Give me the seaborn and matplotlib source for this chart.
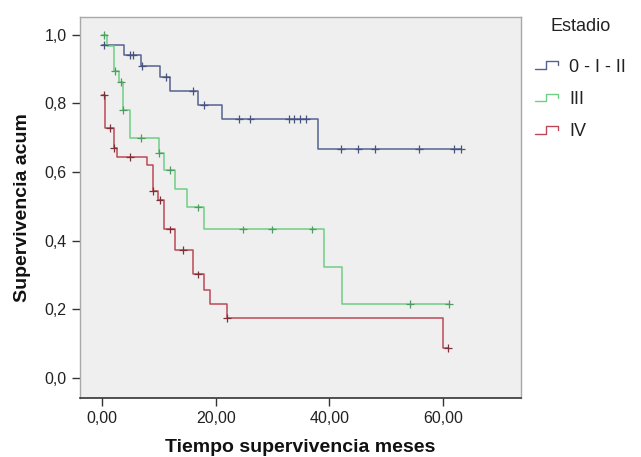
import numpy as np
import pandas as pd
import matplotlib.pyplot as plt
import seaborn as sns
from matplotlib.lines import Line2D
from matplotlib.legend_handler import HandlerBase
from matplotlib.ticker import FuncFormatter

# Kaplan-Meier steps: drop times (months) and survival after each drop
groups = ['0 - I - II', 'III', 'IV']

blue_t = [0, 3.9, 6.8, 10.1, 11.9, 16.9, 21.0, 37.9]
blue_s = [0.971, 0.942, 0.910, 0.877, 0.835, 0.796, 0.755, 0.668]
blue_cens = [0.3, 4.9, 5.5, 7.0, 11.2, 15.9, 17.9, 24.1, 26.1, 32.9, 33.8, 34.8,
             35.9, 42.0, 45.1, 48.0, 55.8, 61.9, 63.2]

green_t = [0, 0.8, 2.1, 3.0, 3.7, 4.9, 10.0, 10.9, 12.8, 15.0, 17.9, 39.0, 42.2]
green_s = [1.0, 0.966, 0.895, 0.862, 0.781, 0.700, 0.655, 0.606, 0.550, 0.497,
           0.433, 0.323, 0.216]
green_cens = [0.3, 2.2, 3.3, 3.7, 6.9, 10.0, 11.9, 16.9, 24.8, 29.9, 37.0, 54.1, 61.1]

red_t = [0, 0.5, 2.0, 2.6, 7.9, 8.9, 9.9, 10.9, 12.8, 15.9, 18.0, 19.0, 22.0, 59.9]
red_s = [0.825, 0.728, 0.670, 0.645, 0.621, 0.546, 0.519, 0.433, 0.373, 0.302,
         0.258, 0.215, 0.174, 0.087]
red_cens = [0.3, 1.3, 2.0, 4.9, 9.0, 10.1, 12.0, 14.2, 16.9, 22.0, 60.9]

line_colors = ['#55638f', '#6fcf86', '#bb4a56']
mark_colors = ['#47527e', '#4f9c62', '#7e3039']

y_ticks = [0.0, 0.2, 0.4, 0.6, 0.8, 1.0]
x_ticks = [0, 20, 40, 60]


def build_frames(name, times, surv, cens):
    times = np.asarray(times, dtype=float)
    surv = np.asarray(surv, dtype=float)
    cens = np.asarray(cens, dtype=float)
    # carry the last value out to the last follow-up time
    t_line = np.append(times, max(cens.max(), times.max()))
    s_line = np.append(surv, surv[-1])
    idx = np.searchsorted(times, cens, side='right') - 1
    lines = pd.DataFrame({'t': t_line, 's': s_line, 'Estadio': name})
    marks = pd.DataFrame({'t': cens, 's': surv[idx], 'Estadio': name})
    return lines, marks


parts = [build_frames(g, t, s, c) for g, t, s, c in zip(
    groups,
    [blue_t, green_t, red_t],
    [blue_s, green_s, red_s],
    [blue_cens, green_cens, red_cens])]
line_df = pd.concat([p[0] for p in parts], ignore_index=True)
mark_df = pd.concat([p[1] for p in parts], ignore_index=True)


class StepHandler(HandlerBase):
    def create_artists(self, legend, orig_handle, xdescent, ydescent,
                       width, height, fontsize, trans):
        xs = np.array([0.0, 0.45, 0.45, 0.9, 0.9]) * width - xdescent
        ys = np.array([0.2, 0.2, 0.8, 0.8, 0.5]) * height - ydescent
        ln = Line2D(xs, ys, color=orig_handle.get_color(), lw=1.0)
        ln.set_transform(trans)
        return [ln]


sns.set_style('white', {'axes.facecolor': '#efefef'})
plt.rcParams['font.family'] = ['Liberation Sans', 'DejaVu Sans']

fig, ax = plt.subplots(figsize=(6.41, 4.57), dpi=100)
fig.subplots_adjust(left=0.1248, right=0.8128, bottom=0.129, top=0.963)

sns.lineplot(data=line_df, x='t', y='s', hue='Estadio', palette=line_colors,
             drawstyle='steps-post', estimator=None, linewidth=1.1,
             legend=False, ax=ax)
sns.scatterplot(data=mark_df, x='t', y='s', hue='Estadio', palette=mark_colors,
                marker='+', s=32, linewidth=0.9, legend=False, ax=ax, zorder=3)

ax.set_xlim(-3.9, 73.7)
ax.set_ylim(-0.058, 1.052)
ax.set_xticks(x_ticks)
ax.set_yticks(y_ticks)
ax.xaxis.set_major_formatter(FuncFormatter(lambda v, p: f'{v:.2f}'.replace('.', ',')))
ax.yaxis.set_major_formatter(FuncFormatter(lambda v, p: f'{v:.1f}'.replace('.', ',')))
ax.tick_params(axis='both', which='major', direction='out', length=6, width=1,
               color='#333333', labelsize=11.5, labelcolor='#222222',
               left=True, bottom=True)

for side in ['top', 'right', 'left']:
    ax.spines[side].set_color('#a8a8a8')
    ax.spines[side].set_linewidth(1.0)
ax.spines['bottom'].set_color('#333333')
ax.spines['bottom'].set_linewidth(1.2)

ax.set_xlabel('Tiempo supervivencia meses', fontsize=14, fontweight='bold',
              color='#111111', labelpad=9)
ax.set_ylabel('Supervivencia acum', fontsize=14, fontweight='bold',
              color='#111111', labelpad=10)

proxies = [Line2D([], [], color=c) for c in line_colors]
leg = ax.legend(proxies, groups, title='Estadio', loc='upper left',
                bbox_to_anchor=(0.995, 1.04), frameon=False, fontsize=13,
                title_fontsize=13, handlelength=1.4, handletextpad=0.5,
                labelspacing=0.85, handler_map={Line2D: StepHandler()})
leg._legend_box.sep = 17  # a bit more room under the title
leg.get_title().set_color('#222222')
for txt in leg.get_texts():
    txt.set_color('#222222')

fig.savefig('out.png', dpi=100)
